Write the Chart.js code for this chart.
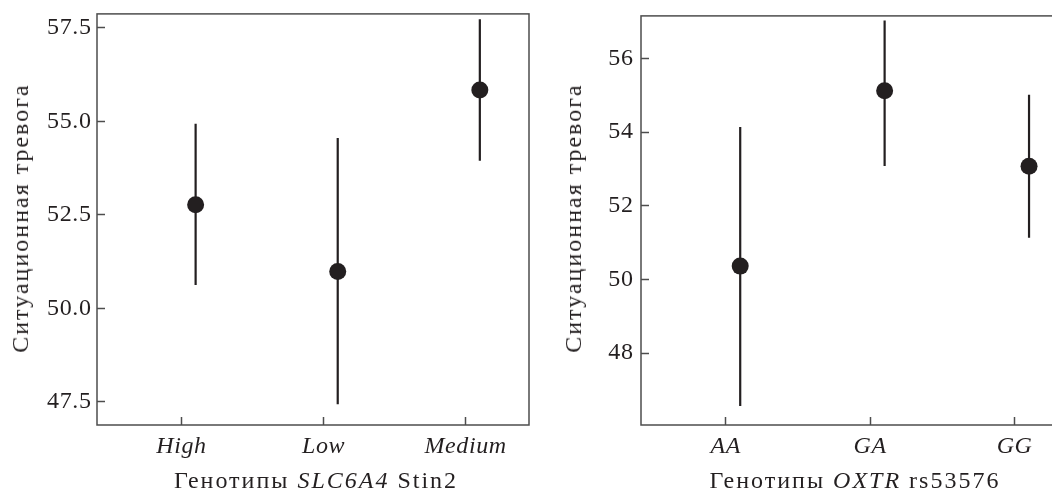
<!DOCTYPE html>
<html lang="ru">
<head>
<meta charset="UTF-8">
<title>Ситуационная тревога по генотипам</title>
<script src="https://cdn.jsdelivr.net/npm/chart.js"></script>
<style>
  body { margin: 0; background: #fff; }
  .page { position: relative; width: 1052px; height: 493px; overflow: hidden; font-family: "Liberation Serif", serif; color: #231f20; }
  .panel { position: absolute; top: 0; height: 493px; overflow: hidden; }
  /* canvas starts a bit above the page: Chart.js keeps room over the top tick label */
  .panel .box { position: absolute; left: 0; top: -14px; height: 507px; }
  .xtitle, .ytitle { position: absolute; font-size: 24px; line-height: 24px; letter-spacing: 2px; white-space: nowrap; }
  .xtitle { top: 468px; transform: translateX(-50%); }
  .ytitle { transform: translate(-50%, -50%) rotate(-90deg); }
</style>
</head>
<body>
<div class="page">
  <div class="panel" style="left:0; width:530px;">
    <div class="box" style="width:540px;"><canvas id="chartStin2"></canvas></div>
  </div>
  <div class="panel" style="left:530px; width:522px;">
    <div class="box" style="width:560px;"><canvas id="chartOxtr"></canvas></div>
  </div>
  <div class="ytitle" style="left:20px; top:218px;">Ситуационная тревога</div>
  <div class="ytitle" style="left:573px; top:218px;">Ситуационная тревога</div>
  <div class="xtitle" style="left:316px;">Генотипы <i>SLC6A4</i> Stin2</div>
  <div class="xtitle" style="left:855px;">Генотипы <i>OXTR</i> rs53576</div>
</div>
<script>
  const FONT = 'Liberation Serif';
  const INK = '#231f20';
  const FRAME = '#4d4d4d';

  // SLC6A4 Stin2
  const stinGenotypes = ['High', 'Low', 'Medium'];
  const stinMeans = [52.77, 50.99, 55.84];
  const stinLower = [50.63, 47.44, 53.95];
  const stinUpper = [54.94, 54.56, 57.73];
  const stinTicks = [47.5, 50.0, 52.5, 55.0, 57.5];

  // OXTR rs53576
  const oxtrGenotypes = ['AA', 'GA', 'GG'];
  const oxtrMeans = [50.36, 55.12, 53.07];
  const oxtrLower = [46.56, 53.08, 51.13];
  const oxtrUpper = [54.14, 57.03, 55.01];
  const oxtrTicks = [48, 50, 52, 54, 56];

  const dodge = 0.1; // points sit a little right of the tick

  const frame = {
    id: 'frame',
    beforeDraw(chart) {
      chart.ctx.letterSpacing = '0.6px';
    },
    afterDraw(chart) {
      const a = chart.chartArea, c = chart.ctx;
      c.save();
      c.strokeStyle = FRAME;
      c.lineWidth = 1.5;
      c.strokeRect(a.left, a.top, a.right - a.left, a.bottom - a.top);
      c.restore();
    }
  };

  function makePanel(id, cats, means, lower, upper, yTicks, o) {
    const points = means.map((m, i) => ({ x: i + dodge, y: m }));
    const bars = [];
    cats.forEach((c, i) => {
      bars.push({ x: i + dodge, y: lower[i] }, { x: i + dodge, y: upper[i] }, { x: i + dodge, y: null });
    });

    new Chart(document.getElementById(id), {
      type: 'scatter',
      data: {
        datasets: [
          { data: points, pointRadius: 8.5, pointBackgroundColor: INK, pointBorderWidth: 0, pointBorderColor: INK },
          { data: bars, showLine: true, spanGaps: false, borderColor: INK, borderWidth: 2.2, pointRadius: 0 }
        ]
      },
      options: {
        responsive: true,
        maintainAspectRatio: false,
        animation: false,
        layout: { padding: { top: 14, right: o.padRight, left: 0, bottom: 0 } },
        plugins: { legend: { display: false }, tooltip: { enabled: false } },
        scales: {
          x: {
            type: 'linear',
            min: o.xMin,
            max: o.xMax,
            afterBuildTicks: s => { s.ticks = cats.map((c, i) => ({ value: i })); },
            afterFit: s => { s.height = 68; },
            border: { display: false },
            grid: { drawOnChartArea: false, tickLength: -8, tickColor: FRAME, tickWidth: 1.5 },
            ticks: {
              callback: v => cats[v],
              font: { family: FONT, size: 24, style: 'italic' },
              color: INK,
              padding: 15,
              maxRotation: 0,
              autoSkip: false
            }
          },
          y: {
            min: o.yMin,
            max: o.yMax,
            afterBuildTicks: s => { s.ticks = yTicks.map(v => ({ value: v })); },
            afterFit: s => { s.width = o.yWidth; },
            border: { display: false },
            grid: { drawOnChartArea: false, tickLength: -8, tickColor: FRAME, tickWidth: 1.5 },
            ticks: {
              callback: o.fmt,
              font: { family: FONT, size: 24 },
              color: INK,
              padding: o.yPad,
              autoSkip: false
            }
          }
        }
      },
      plugins: [frame]
    });
  }

  makePanel('chartStin2', stinGenotypes, stinMeans, stinLower, stinUpper, stinTicks, {
    xMin: -0.594, xMax: 2.446, yMin: 46.885, yMax: 57.874,
    yWidth: 97, yPad: 13.5, padRight: 11,
    fmt: v => v.toFixed(1)
  });

  makePanel('chartOxtr', oxtrGenotypes, oxtrMeans, oxtrLower, oxtrUpper, oxtrTicks, {
    xMin: -0.587, xMax: 2.446, yMin: 46.046, yMax: 57.154,
    yWidth: 111, yPad: 15.5, padRight: 11,
    fmt: v => String(v)
  });
</script>
</body>
</html>
